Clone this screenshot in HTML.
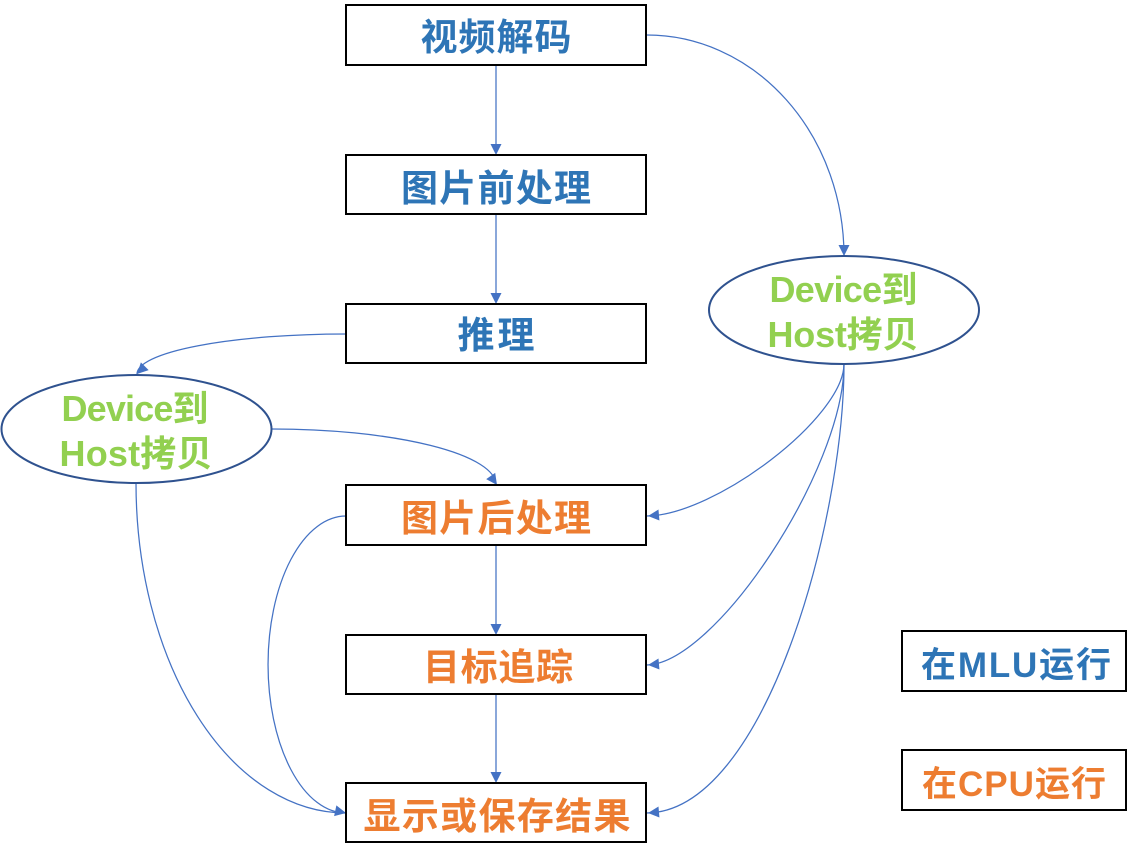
<!DOCTYPE html>
<html><head><meta charset="utf-8"><style>
html,body{margin:0;padding:0;background:#fff;}
svg{display:block;}
text{font-family:"Liberation Sans","Noto Sans CJK SC",sans-serif;font-weight:bold;}
</style></head><body>
<svg width="1135" height="859" viewBox="0 0 1135 859" xmlns="http://www.w3.org/2000/svg">
<rect width="1135" height="859" fill="#fff"/>
<g fill="none" stroke="#4472C4" stroke-width="1.25">
  <path d="M496,65 L496,146"/>
  <path d="M496,214 L496,295"/>
  <path d="M496,546 L496,626"/>
  <path d="M496,695 L496,774"/>
  <path d="M647,35 A197,221 0 0 1 844,256"/>
  <path d="M346,334 A209,40 0 0 0 137,374"/>
  <path d="M272,429 A224,56 0 0 1 496,485"/>
  <path d="M136,483 A210,330 0 0 0 346,813"/>
  <path d="M346,516 A78,148.5 0 0 0 346,813"/>
  <path d="M844,364 C844,417 715,516 646,516"/>
  <path d="M844,364 C844,469 715,665 646,665"/>
  <path d="M844,364 C844,521 765,813 646,813"/>
</g>
<g fill="#4472C4">
  <polygon points="0,0 -11,-5.5 -11,5.5" transform="translate(496,155) rotate(90)"/>
  <polygon points="0,0 -11,-5.5 -11,5.5" transform="translate(496,304) rotate(90)"/>
  <polygon points="0,0 -11,-5.5 -11,5.5" transform="translate(496,635) rotate(90)"/>
  <polygon points="0,0 -11,-5.5 -11,5.5" transform="translate(496,783) rotate(90)"/>
  <polygon points="0,0 -11,-5.5 -11,5.5" transform="translate(844,256) rotate(90)"/>
  <polygon points="0,0 -11,-5.5 -11,5.5" transform="translate(137,374) rotate(135)"/>
  <polygon points="0,0 -11,-5.5 -11,5.5" transform="translate(497,485) rotate(55)"/>
  <polygon points="0,0 -11,-5.5 -11,5.5" transform="translate(346,813) rotate(12)"/>
  <polygon points="0,0 -11,-5.5 -11,5.5" transform="translate(648,516) rotate(175)"/>
  <polygon points="0,0 -11,-5.5 -11,5.5" transform="translate(648,665) rotate(175)"/>
  <polygon points="0,0 -11,-5.5 -11,5.5" transform="translate(648,813) rotate(175)"/>
</g>
<g fill="#fff" stroke="#000" stroke-width="2">
  <rect x="346" y="5" width="300" height="60"/>
  <rect x="346" y="155" width="300" height="59"/>
  <rect x="346" y="304" width="300" height="59"/>
  <rect x="346" y="485" width="300" height="60"/>
  <rect x="346" y="635" width="300" height="59"/>
  <rect x="346" y="783" width="300" height="59"/>
  <rect x="902" y="631" width="224" height="60"/>
  <rect x="902" y="750" width="224" height="60"/>
</g>
<g fill="#fff" stroke="#2F528F" stroke-width="2">
  <ellipse cx="136.5" cy="429" rx="135" ry="54"/>
  <ellipse cx="844" cy="310" rx="135" ry="54"/>
</g>
<g font-size="37" text-anchor="middle">
  <text x="496" y="50" fill="#2E75B6" textLength="151">视频解码</text>
  <text x="496" y="201" fill="#2E75B6" textLength="190">图片前处理</text>
  <text x="496" y="348" fill="#2E75B6" textLength="77">推理</text>
  <text x="496" y="531" fill="#ED7D31" textLength="190">图片后处理</text>
  <text x="498" y="680" fill="#ED7D31" textLength="150">目标追踪</text>
  <text x="497" y="829" fill="#ED7D31" textLength="267">显示或保存结果</text>
</g>
<g font-size="35" text-anchor="middle">
  <text x="1016" y="677" fill="#2E75B6" textLength="190">在MLU运行</text>
  <text x="1014" y="796" fill="#ED7D31" textLength="184">在CPU运行</text>
</g>
<g font-size="36" text-anchor="middle" fill="#92D050">
  <text x="135" y="421" textLength="147">Device到</text>
  <text x="136" y="466" textLength="153">Host拷贝</text>
  <text x="843.5" y="302" textLength="148">Device到</text>
  <text x="843" y="347" textLength="151">Host拷贝</text>
</g>
</svg>
</body></html>
